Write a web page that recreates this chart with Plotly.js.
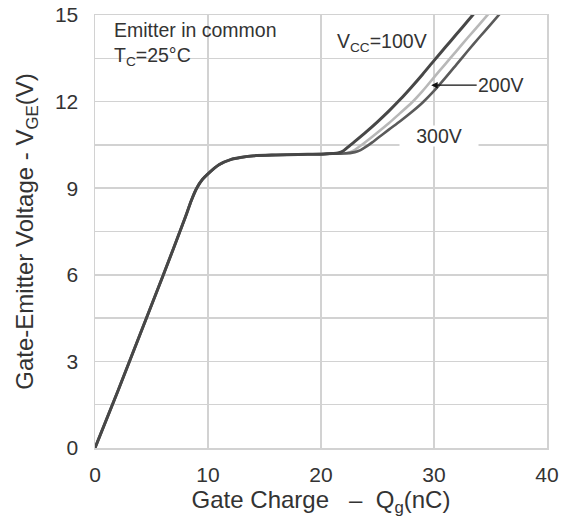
<!DOCTYPE html>
<html>
<head>
<meta charset="utf-8">
<script src="https://cdn.plot.ly/plotly-3.0.1.min.js"></script>
<style>
  html, body { margin: 0; padding: 0; background: #fff; }
  #chart { width: 573px; height: 521px; }
</style>
</head>
<body>
<div id="chart"></div>
<script>
// Gate charge curve shared by all supply voltages (turn-on ramp and Miller plateau)
const qCommon = [0, 2, 4, 6, 8, 8.5, 9, 9.5, 10, 11, 12, 13, 14, 16, 18, 20, 21];
const vCommon = [0, 1.95, 3.95, 5.95, 8.0, 8.55, 9.0, 9.3, 9.5, 9.82, 9.99, 10.07, 10.12, 10.15, 10.17, 10.18, 10.2];

// Rise after the plateau for each collector supply voltage
const q100 = [21.5, 22, 22.5, 23, 24, 25, 26, 27, 28, 29, 30, 31, 32, 33, 34];
const v100 = [10.22, 10.3, 10.46, 10.62, 10.95, 11.3, 11.67, 12.07, 12.5, 12.95, 13.42, 13.88, 14.34, 14.8, 15.26];

const q200 = [22, 22.5, 23, 23.5, 24, 25, 26, 27, 28, 29, 30, 31, 32, 33, 34, 35];
const v200 = [10.2, 10.24, 10.33, 10.47, 10.62, 10.93, 11.25, 11.6, 11.95, 12.37, 12.84, 13.3, 13.76, 14.22, 14.67, 15.12];

const q300 = [22, 23, 23.5, 24, 24.5, 25, 26, 27, 28, 29, 30, 31, 32, 33, 34, 35, 36];
const v300 = [10.2, 10.25, 10.32, 10.44, 10.58, 10.73, 11.03, 11.32, 11.63, 11.97, 12.37, 12.82, 13.29, 13.76, 14.22, 14.67, 15.12];

const xTicks = [0, 10, 20, 30, 40];
const yTicks = [0, 3, 6, 9, 12, 15];

const FONT = 'Liberation Sans, Arial, sans-serif';
const TXT = '#333333';
const GRID = '#d2d2d2';

function curve(qb, vb, color, width) {
  return {
    type: 'scatter', mode: 'lines',
    x: qCommon.concat(qb), y: vCommon.concat(vb),
    line: { color: color, width: width, shape: 'spline', smoothing: 0.8 },
    hoverinfo: 'skip', showlegend: false
  };
}

const traces = [
  curve(q200, v200, '#b8b8b8', 2.6),
  curve(q300, v300, '#5a5a5a', 2.6),
  curve(q100, v100, '#474747', 3)
];

const layout = {
  width: 573, height: 521,
  margin: { l: 95, r: 26, t: 15, b: 73 },
  paper_bgcolor: '#fff', plot_bgcolor: '#fff',
  font: { family: FONT, size: 20, color: TXT },
  showlegend: false,
  xaxis: {
    range: [0, 40], tickvals: xTicks, ticktext: xTicks.map(String),
    showgrid: true, gridcolor: GRID, gridwidth: 1.5,
    showline: true, linecolor: GRID, linewidth: 1.5, mirror: true,
    zeroline: false, ticks: '', ticklabelstandoff: 7,
    tickfont: { family: FONT, size: 21, color: TXT },
    title: { text: 'Gate Charge \u00a0 \u2013 \u00a0Q<sub>g</sub>(nC)', standoff: 5,
             font: { family: FONT, size: 24, color: TXT } },
    fixedrange: true
  },
  yaxis: {
    range: [0, 15], tickvals: yTicks, ticktext: yTicks.map(String),
    showgrid: true, gridcolor: GRID, gridwidth: 1.5,
    minor: { dtick: 1.5, tick0: 0, showgrid: true, gridcolor: GRID, gridwidth: 1.5, ticks: '' },
    showline: true, linecolor: GRID, linewidth: 1.5, mirror: true,
    zeroline: false, ticks: '', ticklabelstandoff: 11,
    tickfont: { family: FONT, size: 21, color: TXT },
    title: { text: 'Gate-Emitter Voltage - V<sub>GE</sub>(V)', standoff: 14,
             font: { family: FONT, size: 24, color: TXT } },
    fixedrange: true
  },
  shapes: [
    // white panel behind the test-condition note
    { type: 'rect', xref: 'paper', yref: 'paper', layer: 'between',
      x0: 0.013, x1: 0.43, y0: 0.885, y1: 0.995,
      fillcolor: '#fff', line: { width: 0 } }
  ],
  annotations: [
    { xref: 'paper', yref: 'paper', x: 0.037, y: 0.995, xanchor: 'left', yanchor: 'top',
      align: 'left', showarrow: false,
      text: 'Emitter in common<br>T<sub>C</sub>=25°C',
      font: { family: FONT, size: 19.5, color: TXT } },
    { x: 25.4, y: 14.06, showarrow: false,
      text: 'V<sub>CC</sub>=100V',
      font: { family: FONT, size: 19.5, color: TXT } },
    { x: 29.75, y: 12.57, ax: 70, ay: 0, showarrow: true,
      arrowhead: 2, arrowsize: 1, arrowwidth: 1.3, arrowcolor: '#111',
      text: '200V',
      font: { family: FONT, size: 19.5, color: TXT } },
    { x: 30.44, y: 10.8, showarrow: false, text: '300V',
      width: 78, height: 20, bgcolor: '#fff', borderpad: 0,
      font: { family: FONT, size: 19.5, color: TXT } }
  ]
};

Plotly.newPlot('chart', traces, layout, { staticPlot: true, displayModeBar: false });
</script>
</body>
</html>
